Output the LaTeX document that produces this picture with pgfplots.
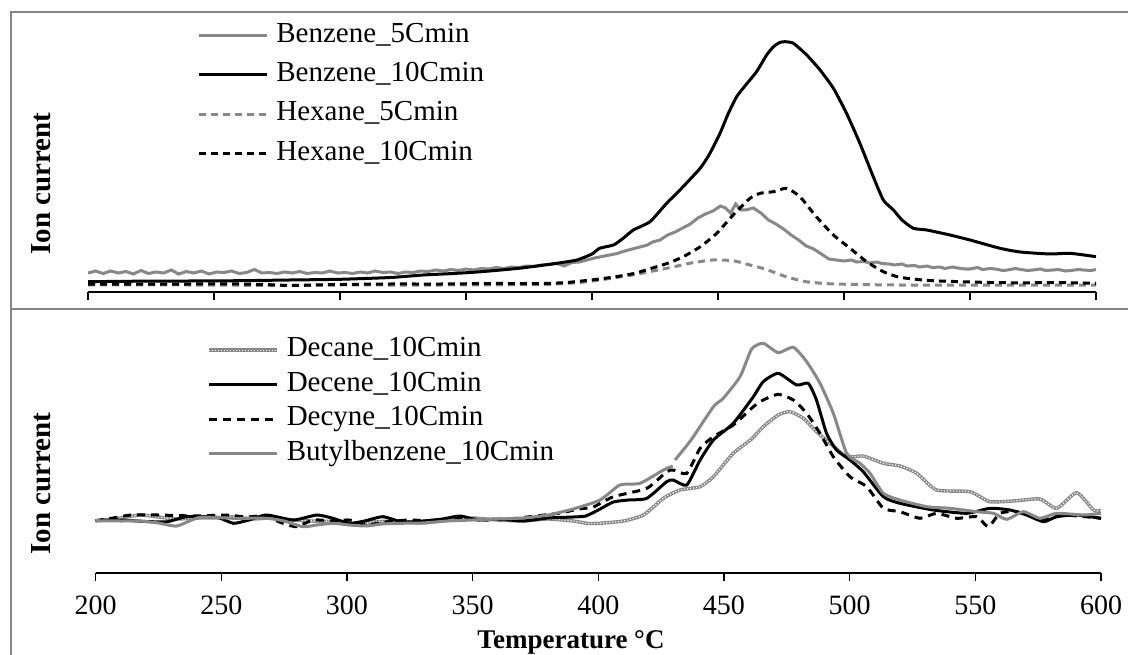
\documentclass[border=0pt]{standalone}
\usepackage{pgfplots}
\pgfplotsset{compat=1.18}
\usepackage{fontspec}
\setmainfont{Liberation Serif}
\definecolor{lgray}{RGB}{136,136,136}
\definecolor{framegray}{RGB}{134,134,134}
\pgfplotsset{
  myax/.style={
    scale only axis, xmin=200, xmax=600, ymin=0,
    axis x line=bottom, axis y line=none,
    axis line style={-, black, line width=0.6pt},
    xtick={200,250,...,600}, tick align=outside, major tick length=4pt,
    tick style={black, line width=0.6pt},
    /pgf/number format/assume math mode=true,
    /pgf/number format/1000 sep={},
    xticklabel style={font=\fontsize{14}{16}\selectfont, yshift=-4pt},
    unbounded coords=jump,
    legend cell align=left,
    legend image code/.code={\draw[##1] (0pt,0pt) -- (34pt,0pt);},
  },
  lg/.style={lgray, line width=1.5pt},
  lb/.style={black, line width=1.5pt},
  sm/.style={smooth, tension=0.35},
}
\begin{document}
\begin{tikzpicture}
\path[use as bounding box] (0pt,0pt) rectangle (564pt,327pt);
\draw[framegray, line width=1pt] (5.5pt,-2pt) -- (5.5pt,321pt) -- (570pt,321pt);
\draw[framegray, line width=1pt] (5.5pt,172.5pt) -- (570pt,172.5pt);

% ---------------- top panel ----------------
\begin{axis}[myax, at={(44pt,181pt)}, anchor=south west,
  width=504pt, height=140pt, ymax=280, xticklabel=\empty,
  legend style={at={(axis description cs:0.1081,0.9657)}, anchor=north west,
    draw=none, fill=none, inner sep=0pt, row sep=6.2pt, column sep=4pt,
    font=\fontsize{14.5}{17}\selectfont,
    nodes={inner sep=0pt, text height=10pt, text depth=3.5pt}}]
\addplot[lg] coordinates {
(200,19)(203,21)(206,18.5)(209,21)(212,19)(215,20.5)(218,18)(221,21.5)(224,18.5)(227,20)
(230,19)(233,22)(236,18)(239,20.5)(242,19)(245,21)(248,18)(251,20)(254,19.5)(257,21)
(260,18.5)(263,19.5)(266,22.5)(269,19)(272,19.5)(275,18.5)(278,20)(281,19)(284,20.5)(287,18.5)
(290,19.5)(293,19)(296,21)(299,19)(302,19.5)(305,18.5)(308,20)(311,19)(314,21)(317,19.5)
(320,20)(323,18.5)(326,20)(329,19.5)(332,21)(335,20.5)(338,22)(341,21)(344,22.5)(347,21.5)
(350,23)(353,22)(356,23.5)(359,23)(362,24.5)(365,23.5)(368,25)(371,24.5)(374,26)(377,25.5)
(380,27)(383,27.5)(386,28.5)(389,26)(392,29.5)(395,30)(398,32)(401,34)(404,35.5)(407,37)
(410,38.5)(413,41)(416,43)(419,45)(422,47)(424,50)(427,52)(430,57)(433,60)(436,64)
(439,68)(442,74)(445,78)(448,81)(451,86)(453,84)(455,79)(457,88)(459,82)(461,82)
(464,84)(467,79)(470,72)(473,68)(476,63)(479,57)(482,52)(485,46)(488,43)(491,38)
(494,33)(497,32)(500,31)(503,32)(505,30)(508,30.5)(510,29)(513,30)(515,28.5)(518,28)(520,27)
(523,28)(525,26)(528,26.5)(530,25)(533,26)(535,24.5)(538,25)(540,23.5)(543,25)(545,24)(548,23)
(550,23)(553,24.5)(555,22.5)(558,23.5)(560,23)(563,21.5)(565,22)(568,23.5)(570,22.5)(573,21.5)
(575,22)(578,23)(580,21.5)(583,22)(585,22.5)(588,21)(590,21.5)(593,22.5)(595,22)(598,21.5)(600,22.5)};
\addlegendentry{Benzene\_5Cmin}
\addplot[lb, sm] coordinates {
(200,10.3)(220,10.8)(240,11)(260,11.3)(280,12)(300,12.7)(320,14.5)(333,17)(345,18.5)(356,20.3)
(371,23.7)(386,28.7)(394,32)(400,38)(403,43.7)(408.5,47)(412,53)(416.4,62)(423,70.3)(429.6,88.7)
(434.9,102)(442.9,123.7)(446.8,138.7)(450.8,158.7)(454,178)(457.4,195.3)(461,207)(465.3,220.3)
(469.3,237)(472,245.3)(474.5,249.5)(476.6,250.3)(479.9,248.7)(485.2,237)(490.5,222)(495.8,203.7)
(501,178.7)(506.3,148.7)(511.6,115.3)(515.6,92)(519.6,82)(523,72)(527.5,63.7)(532.8,62)
(542.1,57)(550,52)(561.9,43.7)(570,40)(581.7,38)(589.7,38.7)(600,35.3)};
\addlegendentry{Benzene\_10Cmin}
\addplot[lg, sm, dash pattern=on 3.5pt off 2.5pt] coordinates {
(200,7)(240,7)(280,6.5)(300,7)(340,7)(380,7.5)(395,9.5)(403,12)(416,17)(429.6,23.7)
(440,29.3)(448,32)(456,31.3)(462.7,27)(469,22.7)(477,15.3)(485,10.3)(496,8)(522,7)(562,7)(600,7)};
\addlegendentry{Hexane\_5Cmin}
\addplot[lb, sm, dash pattern=on 3.5pt off 2.5pt] coordinates {
(200,8)(220,8)(240,8)(260,8)(270,7.5)(280,6.5)(290,7)(300,7.5)(320,8)(340,8)(360,8.5)(380,8.5)
(390,9.5)(402,12.7)(410,15.5)(417,18.7)(424,24)(430,28.7)(436,35)(443,45.3)(449.5,58.7)(456,77)
(462.7,93.7)(466.7,98.7)(472,100.3)(477.2,103.7)(482.5,95.3)(489,75.3)(495.8,57)(502.4,43.7)
(509,30.3)(515.6,20.3)(522.2,14.7)(535,11.3)(562,9.3)(588,9.3)(600,8.7)};
\addlegendentry{Hexane\_10Cmin}
\end{axis}

% ---------------- bottom panel ----------------
\begin{axis}[myax, at={(47.8pt,40.5pt)}, anchor=south west,
  width=502.7pt, height=132pt, ymax=264,
  legend style={at={(axis description cs:0.1108,0.8966)}, anchor=north west,
    draw=none, fill=none, inner sep=0pt, row sep=3.75pt, column sep=4pt,
    font=\fontsize{14.5}{17}\selectfont,
    nodes={inner sep=0pt, text height=10pt, text depth=3.5pt}}]
\addplot[lgray, sm, line width=1.7pt, postaction={draw, white, line width=0.6pt, dash pattern=on 0.6pt off 0.9pt}] coordinates {
(200,52.3)(210,55)(217.7,58)(225,56)(232,54)(241.5,55)(248,55)(254.8,56.3)(262,54)(270,55)
(278,53)(286,52)(294.4,51.5)(303.6,48)(310,51)(320,52)(330,50)(340,53)(350,55)(360,53)
(370,52)(380,54)(390,52)(396,49.5)(402,50)(410,52)(418,58)(425.9,74.7)(432.5,83)(440.5,86.3)
(445.8,96.3)(453.7,119.7)(461,134)(465.6,146.3)(471.6,158)(476.2,161.3)(481.6,154.7)(486.8,141.3)
(492.2,129.7)(498.8,116.3)(505.4,117)(513.4,109.7)(520,107)(526.7,99.7)(534.6,83)(547.9,81.3)
(555.8,71.3)(566.5,72.3)(575.7,74)(582.4,64.7)(590.3,80.3)(597,63)(600,62.3)};
\addlegendentry{Decane\_10Cmin}
\addplot[lb, sm] coordinates {
(200,52.3)(210,53)(220,51.5)(228.5,51.3)(236.3,56.3)(248.3,55.7)(254.8,49.7)(261,53)(268,58)
(278.7,53)(288,58)(294.4,54.7)(301,49.7)(307,52)(314.3,56.3)(322,51)(330,52)(338,54)(345,57)
(352,53)(360,54)(370,52)(380,55)(390,56)(395,57)(400,63)(406,71)(412,73)(419.3,74.7)(427.2,91.3)
(429.8,93)(435.2,88)(440.5,113)(445.8,133)(453.7,149.7)(461.7,176.3)(465.6,191.3)(471.6,199.7)
(478.9,188)(483.5,189.7)(486.8,173)(490.8,139.7)(494.8,123)(500.1,113)(505.4,101.3)(513.4,76.3)
(520,69.7)(533.3,63)(546.6,59.7)(555.8,64.7)(563.8,63)(570.4,58)(577.1,51.3)(582.4,56.3)
(590.3,58)(600,54.7)};
\addlegendentry{Decene\_10Cmin}
\addplot[lb, sm, dash pattern=on 4pt off 3pt] coordinates {
(200,52.3)(207,55)(214,58)(225,58)(240,57)(252,58)(260,56)(266.7,57)(274.6,49.7)(280,46.3)
(286.6,53)(295,52)(301,53)(307.7,48)(315,51)(325,53)(335,52)(345,55)(355,53)(365,54)(375,57)
(385,60)(392,64)(398,66)(406,76.3)(419.3,84.7)(427.2,101.3)(429.8,103)(435.2,99.7)(440.5,124.7)
(445.8,136.3)(453.7,148)(461.7,166.3)(465.6,173)(471.6,178.7)(477.6,173)(482.9,159.7)(488.2,139.7)
(493.5,116.3)(500.1,96.3)(506.8,86.3)(513.4,64.7)(520,61.3)(528,54.7)(534.6,59.7)(542.6,54.7)
(550.5,56.3)(555.2,46.3)(559.8,59.7)(566.5,61.3)(577.1,53)(585,58)(600,54.7)};
\addlegendentry{Decyne\_10Cmin}
\addplot[lg, sm] coordinates {
(200,52.3)(210,52)(217.7,52)(225,50)(232.3,47)(241.5,55.7)(254.8,54.7)(268,54.7)(275,52)
(282.5,46.3)(288,48)(294.4,49.7)(301,48)(307.7,47)(314,49)(321,49.7)(330,50)(340,52)(350,53)
(360,54)(370,55)(380,58)(390,64)(400.7,73)(408.6,88)(416.6,89.7)(425.9,103)(429.6,107)
(430,nan)
(430.5,113)(436.9,133)(445.8,166.3)(449.7,174.7)(456.4,196.3)(461,224)(465.6,229.7)(471.6,220.3)
(477.6,225.7)(482.9,211.3)(488.2,189.7)(493.5,159.7)(498.8,119.7)(504.1,109.7)(508.1,99.7)
(513.4,79.7)(520,73)(530.7,66.3)(539.9,64.7)(550.5,61.3)(557.2,59.7)(562.5,53.7)(569.1,61.3)
(575.7,54.7)(582.4,59.7)(593,58)(600,59.7)};
\addlegendentry{Butylbenzene\_10Cmin}
\end{axis}

\node[rotate=90, anchor=base, font=\fontsize{14.5}{17}\selectfont\bfseries] at (25pt,235.25pt) {Ion current};
\node[rotate=90, anchor=base, font=\fontsize{14.5}{17}\selectfont\bfseries] at (25pt,85.25pt) {Ion current};
\node[anchor=base, font=\fontsize{13.5}{16}\selectfont\bfseries] at (285.5pt,3pt) {Temperature °C};
\end{tikzpicture}
\end{document}
